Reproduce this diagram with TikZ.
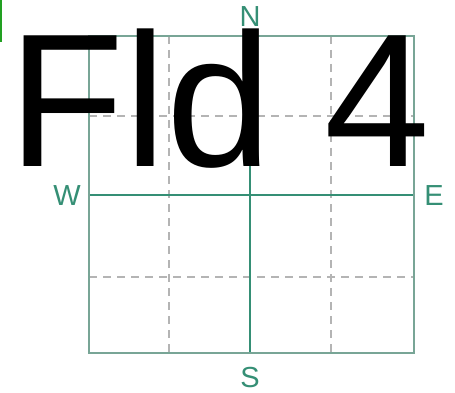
\documentclass[tikz,border=0pt]{standalone}
\usepackage{fontspec}
\setmainfont{Liberation Sans}
\definecolor{teal1}{HTML}{358F75}
\definecolor{frame1}{HTML}{78A596}
\definecolor{dash1}{HTML}{B4B4B4}
\definecolor{green1}{HTML}{22A022}
\tikzset{
  gridframe/.style={draw=frame1, line width=1.5pt},
  axisline/.style={draw=teal1, line width=1.5pt},
  dashline/.style={draw=dash1, line width=1.5pt, dash pattern=on 8pt off 6pt},
  compass/.style={text=teal1, font=\fontsize{29}{29}\selectfont, inner sep=0pt},
  bigtext/.style={font=\fontsize{190}{190}\selectfont, inner sep=0pt, anchor=base west, text=black, text height=136pt, text depth=0pt}
}
\begin{document}
\begin{tikzpicture}[x=1pt,y=-1pt]
\useasboundingbox (0,0) rectangle (455,393);
\fill[white] (0,0) rectangle (455,393);
\fill[green1] (0,0) rectangle (2,42);
% grid
\coordinate (tl) at (89,36);
\coordinate (br) at (414,353);
\draw[dashline] (169,36) -- (169,353);
\draw[dashline] (331,36) -- (331,353);
\draw[dashline] (89,116) -- (414,116);
\draw[dashline] (89,277) -- (414,277);
\draw[axisline] (250,36) -- (250,353);
\draw[axisline] (89,195) -- (414,195);
\draw[gridframe] (tl) rectangle (br);
% compass labels
\node[compass] (N) at (250,17) {N};
\node[compass] (S) at (250,378) {S};
\node[compass] (W) at (67,196) {W};
\node[compass] (E) at (434,196) {E};
\node[bigtext] (title) at (8,167) {Fld 4};
\end{tikzpicture}
\end{document}
